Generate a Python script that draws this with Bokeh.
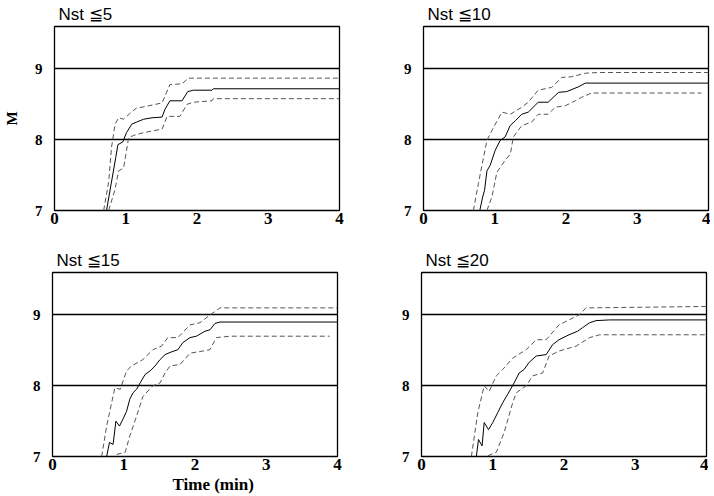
from bokeh.plotting import figure
from bokeh.layouts import row, column
from bokeh.models import Range1d, Title
from bokeh.embed import file_html
from bokeh.resources import INLINE

# ---------------- data ----------------
titles = ["Nst ≦5", "Nst ≦10", "Nst ≦15", "Nst ≦20"]
x_ticks = [0, 1, 2, 3, 4]
y_ticks = [7, 8, 9]
ref_lines = [8, 9]
x_label = "Time (min)"
y_label = "M"

# Nst <= 5
p1_mean_t = [0.73, 0.86, 0.89, 0.96, 1.01, 1.085, 1.155, 1.25, 1.37, 1.51, 1.55, 1.62, 1.79, 1.87, 1.95, 2.21, 2.23, 4.0]
p1_mean_m = [7.0, 7.75, 7.93, 7.97, 8.1, 8.22, 8.25, 8.29, 8.31, 8.32, 8.43, 8.55, 8.55, 8.68, 8.70, 8.70, 8.72, 8.72]
p1_up_t = [0.69, 0.76, 0.80, 0.85, 0.90, 0.97, 1.09, 1.155, 1.23, 1.51, 1.62, 1.79, 1.88, 4.0]
p1_up_m = [7.0, 7.4, 7.89, 8.22, 8.31, 8.29, 8.40, 8.45, 8.46, 8.52, 8.78, 8.79, 8.87, 8.87]
p1_lo_t = [0.76, 0.85, 0.90, 0.97, 1.04, 1.11, 1.25, 1.51, 1.58, 1.65, 1.76, 1.86, 1.95, 2.21, 2.23, 4.0]
p1_lo_m = [7.0, 7.3, 7.56, 7.6, 8.03, 8.06, 8.1, 8.15, 8.33, 8.33, 8.33, 8.5, 8.53, 8.55, 8.58, 8.58]

# Nst <= 10
p2_mean_t = [0.79, 0.83, 0.856, 0.89, 0.936, 1.006, 1.076, 1.146, 1.216, 1.29, 1.38, 1.47, 1.61, 1.75, 1.895, 2.01, 2.18, 2.27, 4.0]
p2_mean_m = [7.0, 7.19, 7.28, 7.56, 7.64, 7.85, 7.99, 8.04, 8.2, 8.27, 8.36, 8.39, 8.53, 8.53, 8.67, 8.68, 8.75, 8.8, 8.8]
p2_up_t = [0.70, 0.77, 0.89, 0.96, 1.1, 1.22, 1.38, 1.47, 1.61, 1.8, 1.94, 2.08, 2.27, 2.46, 4.0]
p2_up_m = [7.0, 7.38, 7.99, 8.13, 8.39, 8.36, 8.46, 8.53, 8.7, 8.74, 8.88, 8.89, 8.94, 8.95, 8.95]
p2_lo_t = [0.89, 0.96, 1.03, 1.146, 1.22, 1.26, 1.38, 1.52, 1.61, 1.75, 1.85, 1.99, 2.13, 2.22, 2.36, 3.9]
p2_lo_m = [7.0, 7.19, 7.54, 7.71, 7.8, 8.04, 8.2, 8.25, 8.36, 8.36, 8.46, 8.48, 8.55, 8.6, 8.66, 8.66]

# Nst <= 15
p3_mean_t = [0.76, 0.80, 0.85, 0.89, 0.94, 0.99, 1.04, 1.085, 1.13, 1.18, 1.23, 1.30, 1.37, 1.44, 1.51, 1.58, 1.65, 1.76, 1.83, 1.93, 2.02, 2.14, 2.21, 2.28, 2.35, 4.0]
p3_mean_m = [7.0, 7.2, 7.17, 7.5, 7.43, 7.53, 7.64, 7.81, 7.9, 7.95, 8.04, 8.16, 8.21, 8.28, 8.37, 8.44, 8.47, 8.51, 8.61, 8.68, 8.70, 8.77, 8.79, 8.88, 8.9, 8.9]
p3_up_t = [0.69, 0.76, 0.875, 0.95, 1.04, 1.11, 1.27, 1.41, 1.53, 1.62, 1.76, 1.93, 2.07, 2.21, 2.35, 4.0]
p3_up_m = [7.0, 7.43, 7.97, 7.95, 8.21, 8.28, 8.37, 8.51, 8.56, 8.68, 8.68, 8.86, 8.89, 9.0, 9.1, 9.1]
p3_lo_t = [0.90, 1.02, 1.085, 1.18, 1.27, 1.41, 1.51, 1.58, 1.65, 1.79, 1.93, 2.11, 2.21, 2.30, 2.49, 3.89]
p3_lo_m = [7.03, 7.06, 7.29, 7.57, 7.85, 8.0, 8.04, 8.18, 8.28, 8.3, 8.46, 8.49, 8.51, 8.68, 8.7, 8.7]

# Nst <= 20
p4_mean_t = [0.77, 0.80, 0.85, 0.88, 0.94, 1.0, 1.07, 1.14, 1.21, 1.30, 1.37, 1.44, 1.51, 1.61, 1.75, 1.84, 1.93, 2.07, 2.19, 2.26, 2.36, 2.45, 2.64, 4.0]
p4_mean_m = [7.0, 7.24, 7.15, 7.48, 7.38, 7.48, 7.62, 7.76, 7.88, 8.04, 8.18, 8.23, 8.33, 8.42, 8.44, 8.58, 8.65, 8.72, 8.77, 8.82, 8.89, 8.92, 8.93, 8.93]
p4_up_t = [0.70, 0.79, 0.88, 0.95, 1.05, 1.14, 1.28, 1.47, 1.61, 1.75, 1.93, 2.07, 2.21, 2.31, 4.0]
p4_up_m = [7.0, 7.62, 8.0, 7.92, 8.14, 8.23, 8.39, 8.51, 8.65, 8.65, 8.86, 8.93, 9.0, 9.1, 9.12]
p4_lo_t = [0.93, 1.05, 1.16, 1.28, 1.33, 1.47, 1.56, 1.70, 1.79, 1.93, 2.17, 2.36, 2.50, 4.0]
p4_lo_m = [7.01, 7.06, 7.34, 7.76, 7.9, 8.0, 8.14, 8.18, 8.42, 8.49, 8.56, 8.68, 8.72, 8.72]

SERIF = "Liberation Serif"
SANS = "Liberation Sans"
DASH_COLOR = "#555555"
FW, FH = 285, 184


def make_panel(title, mt, mm, ut, um, lt, lm, bl, br, bt, bb,
               ylabel=None, xlabel=None):
    p = figure(frame_width=FW, frame_height=FH, x_range=Range1d(0, 4), y_range=Range1d(7, 9.6),
               output_backend="svg", toolbar_location=None,
               min_border_left=bl, min_border_right=br, min_border_top=bt, min_border_bottom=bb)
    p.background_fill_color = "white"
    p.border_fill_color = "white"
    p.outline_line_color = "black"
    p.outline_line_width = 1.3
    p.outline_line_alpha = 1.0

    p.title.text = title
    p.title.text_font = SANS
    p.title.text_font_size = "17px"
    p.title.text_font_style = "normal"
    p.title.text_color = "black"
    p.title.offset = 4
    p.title.standoff = 5

    p.xgrid.visible = False
    p.ygrid.ticker = ref_lines
    p.ygrid.grid_line_color = "black"
    p.ygrid.grid_line_width = 1.5
    p.ygrid.grid_line_alpha = 1.0

    p.xaxis.ticker = x_ticks
    p.yaxis.ticker = y_ticks
    for ax in (p.xaxis, p.yaxis):
        ax.axis_line_color = None
        ax.major_tick_line_color = None
        ax.minor_tick_line_color = None
        ax.major_tick_out = 0
        ax.major_tick_in = 0
        ax.major_label_text_font = SERIF
        ax.major_label_text_font_style = "bold"
        ax.major_label_text_color = "black"
    p.xaxis.major_label_text_font_size = "17px"
    p.yaxis.major_label_text_font_size = "15px"
    p.xaxis.major_label_standoff = 2
    p.yaxis.major_label_standoff = 12

    if ylabel:
        p.yaxis.axis_label = ylabel
        p.yaxis.axis_label_text_font = SERIF
        p.yaxis.axis_label_text_font_style = "bold"
        p.yaxis.axis_label_text_font_size = "15px"
        p.yaxis.axis_label_text_color = "black"
        p.yaxis.axis_label_standoff = 12
    if xlabel:
        p.add_layout(Title(text=xlabel, align="left", offset=120, standoff=0,
                           text_font=SERIF, text_font_style="bold",
                           text_font_size="17px", text_color="black"), "below")

    p.line(ut, um, line_color=DASH_COLOR, line_width=1, line_dash="5 3")
    p.line(lt, lm, line_color=DASH_COLOR, line_width=1, line_dash="5 3")
    p.line(mt, mm, line_color="black", line_width=1)
    return p


f1 = make_panel(titles[0], p1_mean_t, p1_mean_m, p1_up_t, p1_up_m, p1_lo_t, p1_lo_m,
                52, 48, 25, 29, ylabel=y_label)
f2 = make_panel(titles[1], p2_mean_t, p2_mean_m, p2_up_t, p2_up_m, p2_lo_t, p2_lo_m,
                36, 2, 25, 29)
f3 = make_panel(titles[2], p3_mean_t, p3_mean_m, p3_up_t, p3_up_m, p3_lo_t, p3_lo_m,
                52, 48, 33, 40, xlabel=x_label)
f4 = make_panel(titles[3], p4_mean_t, p4_mean_m, p4_up_t, p4_up_m, p4_lo_t, p4_lo_m,
                36, 2, 33, 40)

layout = column(row(f1, f2), row(f3, f4))

open("out.html", "w").write(file_html(layout, INLINE))
